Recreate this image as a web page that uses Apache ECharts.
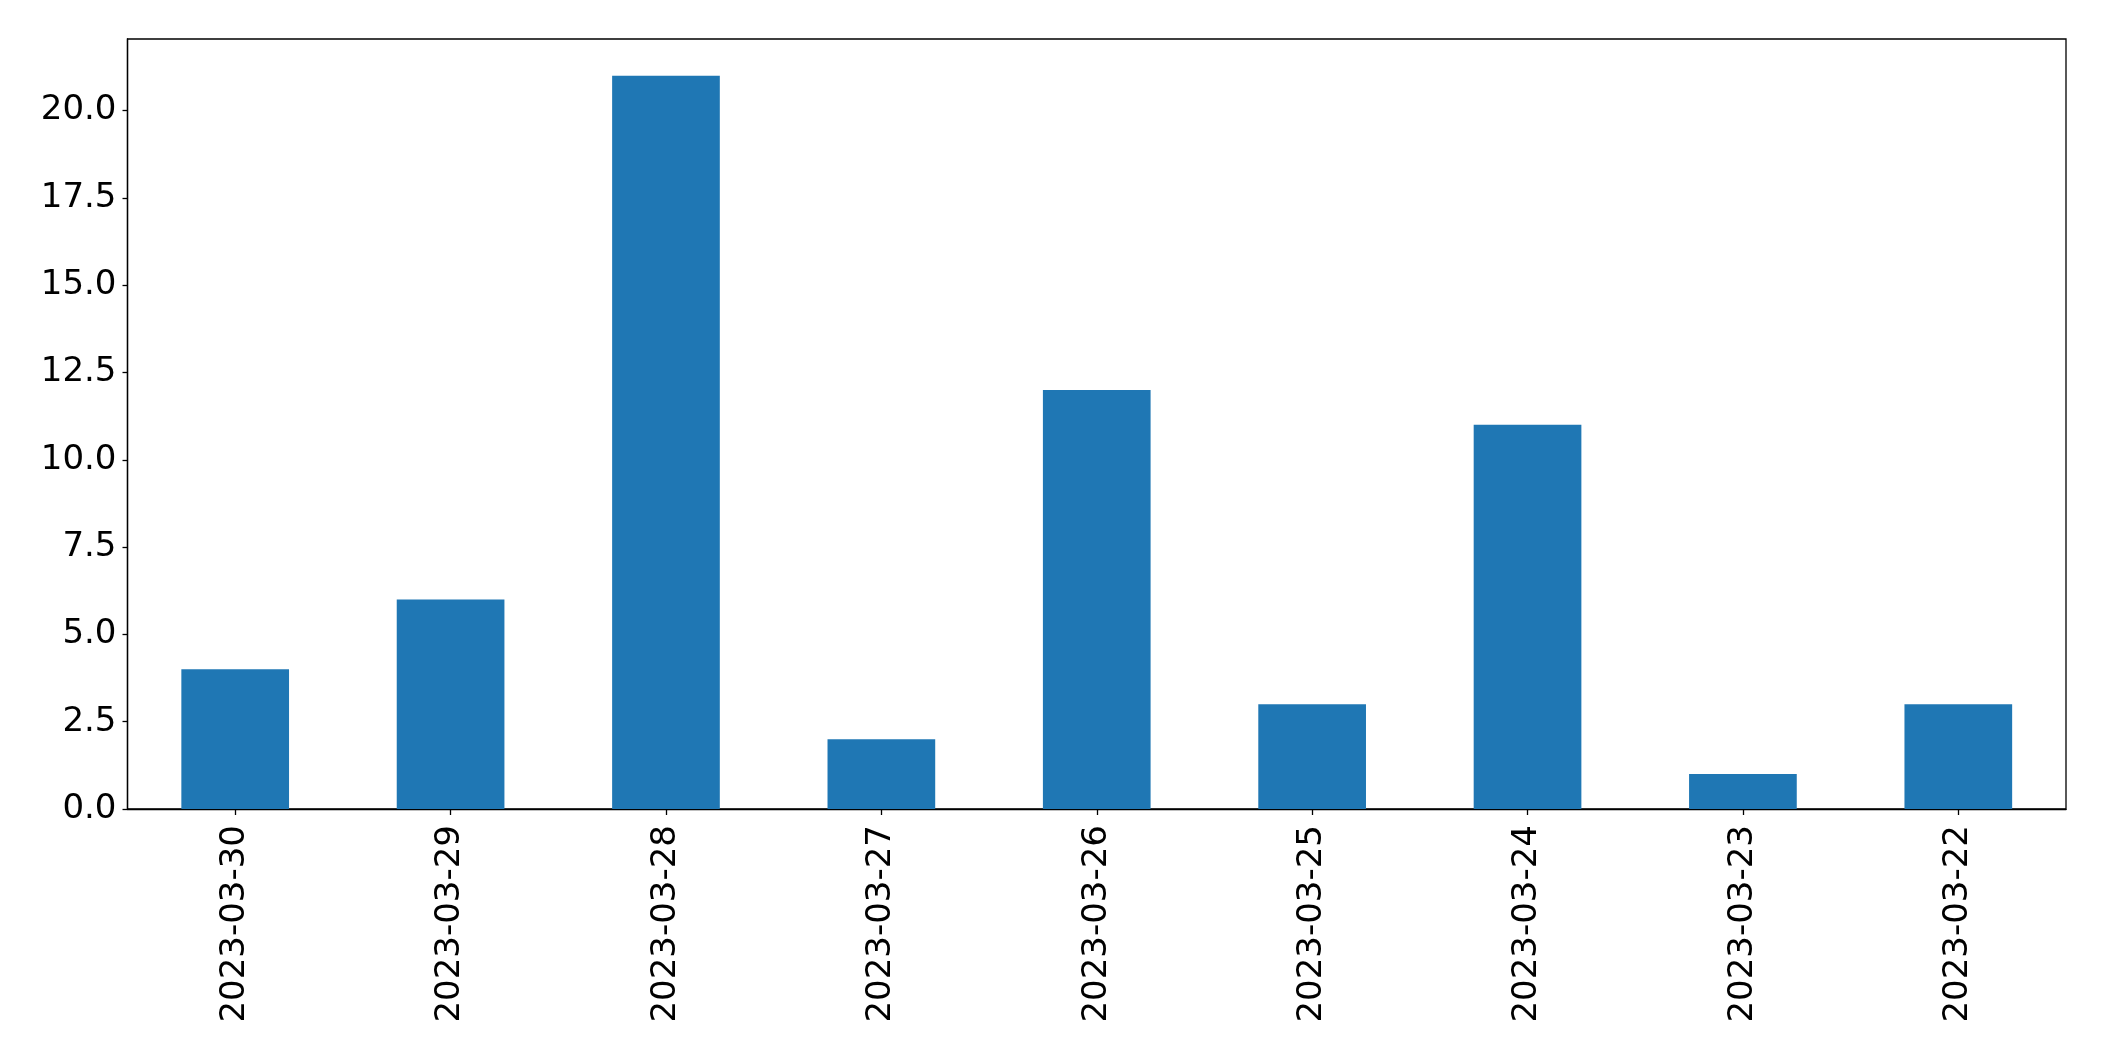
<!DOCTYPE html>
<html><head><meta charset="utf-8">
<script src="https://cdn.jsdelivr.net/npm/echarts@6/dist/echarts.min.js"></script>
<style>html,body{margin:0;padding:0;background:#fff}#c{width:2104px;height:1061px}</style>
</head><body><div id="c"></div>
<script>
const categories = ['2023-03-30','2023-03-29','2023-03-28','2023-03-27','2023-03-26','2023-03-25','2023-03-24','2023-03-23','2023-03-22'];
const values = [4, 6, 21, 2, 12, 3, 11, 1, 3];
const yTicks = [0, 2.5, 5, 7.5, 10, 12.5, 15, 17.5, 20];
const chart = echarts.init(document.getElementById('c'), null, {renderer: 'canvas'});
const font = 'DejaVu Sans';
chart.setOption({
  animation: false,
  backgroundColor: '#fff',
  grid: {left: 127.5, right: 38, top: 39, bottom: 252, show: true, borderColor: '#000', borderWidth: 1.3, backgroundColor: 'transparent'},
  xAxis: {
    type: 'category', data: categories,
    axisLine: {show: true, lineStyle: {color: '#000', width: 1.3}},
    axisTick: {show: true, alignWithLabel: true, length: 6, lineStyle: {color: '#000', width: 1.3}},
    axisLabel: {rotate: 90, margin: 16, fontFamily: font, fontSize: 34, color: '#000', interval: 0},
    splitLine: {show: false}
  },
  yAxis: {
    type: 'value', min: 0, max: 22.05,
    axisLine: {show: true, lineStyle: {color: '#000', width: 1.3}},
    axisTick: {show: true, length: 5, customValues: yTicks, lineStyle: {color: '#000', width: 1.3}},
    axisLabel: {customValues: yTicks, margin: 11, fontFamily: font, fontSize: 34, color: '#000',
      formatter: v => v.toFixed(1)},
    splitLine: {show: false}
  },
  series: [{type: 'bar', data: values, barWidth: '50%', itemStyle: {color: '#1f77b4'}}]
});
</script></body></html>
